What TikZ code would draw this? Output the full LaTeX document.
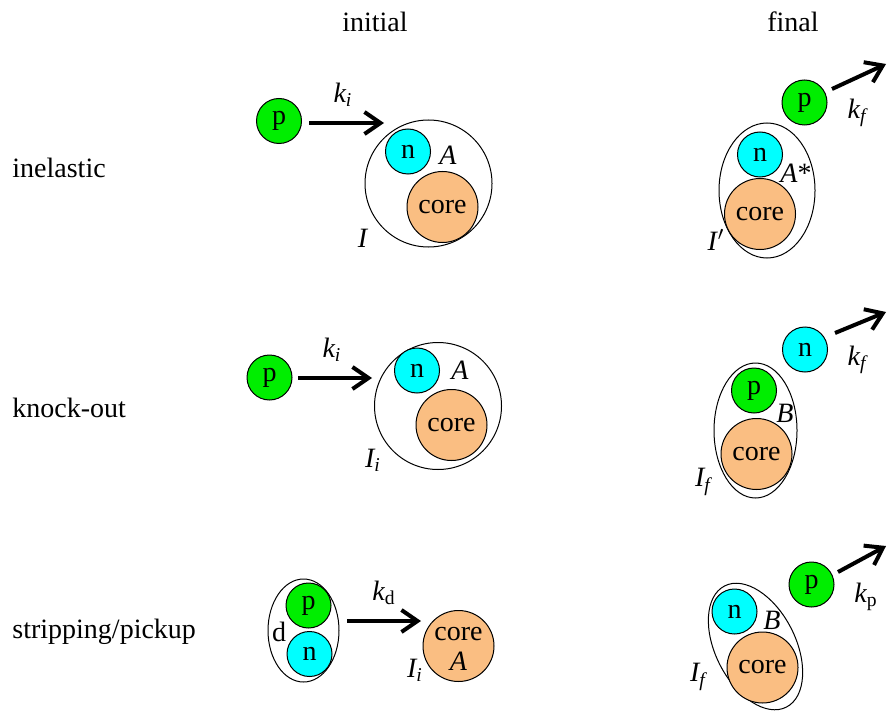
\documentclass[tikz,border=0pt]{standalone}
\usepackage{amsmath}
\usepackage{fontspec}
\setmainfont{Liberation Serif}
\usetikzlibrary{arrows.meta}
\definecolor{pgreen}{RGB}{0,238,0}
\definecolor{ncyan}{RGB}{0,255,255}
\definecolor{corec}{RGB}{250,190,130}
\tikzset{
  ball/.style={circle, draw=black, line width=0.5pt, inner sep=0pt, minimum size=22.5pt},
  proton/.style={ball, fill=pgreen},
  neutron/.style={ball, fill=ncyan},
  corebig/.style={circle, draw=black, line width=0.5pt, inner sep=0pt, minimum size=35.5pt, fill=corec, align=center},
  nucleus/.style={circle, draw=black, line width=0.5pt, inner sep=0pt, minimum size=63.5pt},
  shell/.style={draw=black, line width=0.5pt},
  mom/.style={line width=2pt, -{Straight Barb[length=8pt,width=11pt,line width=2pt]}},
  lbl/.style={inner sep=0pt},
  rowlbl/.style={inner sep=0pt, anchor=west},
}
\newcommand{\kk}[1]{$\textit{k}_{#1}$}
\begin{document}
\begin{tikzpicture}[x=0.5pt,y=-0.5pt,font=\fontsize{14}{16}\selectfont]
\useasboundingbox (0,0) rectangle (887,711);
% headings
\node[lbl] (hi) at (375,22) {initial};
\node[lbl] (hf) at (793,22) {final};
\node[rowlbl] (r1) at (12,168) {inelastic};
\node[rowlbl] (r2) at (12,408) {knock-out};
\node[rowlbl] (r3) at (12,632) {stripping/pickup};

% ---------- row 1 initial
\node[nucleus] (I1) at (428.5,183.5) {};
\node[neutron] (n1) at (408,151.5) {n};
\node[corebig] (c1) at (442.5,207) {core};
\node[proton] (p1) at (279,121) {p};
\coordinate (a1s) at (309,123);
\coordinate (a1e) at (384,123);
\draw[mom] (a1s) -- (a1e);
\node[lbl] (k1) at (343,95) {\kk{\textit{i}}};
\node[lbl] (A1) at (448,155) {\textit{A}};
\node[lbl] (L1) at (363,238) {\textit{I}};

% ---------- row 1 final
\coordinate (e1) at (767,190.5);
\draw[shell] (e1) ellipse [x radius=48, y radius=67.5];
\node[neutron] (n1f) at (760,154.5) {n};
\node[corebig] (c1f) at (760,214) {core};
\node[proton] (p1f) at (804.5,102.5) {p};
\coordinate (b1s) at (832,89);
\coordinate (b1e) at (886,64);
\draw[mom] (b1s) -- (b1e);
\node[lbl] (k1f) at (857,113) {\kk{\textit{f}}};
\node[lbl] (A1f) at (796,173) {\textit{A}*};
\node[lbl] (L1f) at (716,240) {\textit{I}$'$};

% ---------- row 2 initial
\node[nucleus] (I2) at (438,406) {};
\node[neutron] (n2) at (417,370.5) {n};
\node[corebig] (c2) at (451.5,425) {core};
\node[proton] (p2) at (269.5,377.5) {p};
\coordinate (a2s) at (298,378);
\coordinate (a2e) at (372,378);
\draw[mom] (a2s) -- (a2e);
\node[lbl] (k2) at (332,350) {\kk{\textit{i}}};
\node[lbl] (A2) at (460,370) {\textit{A}};
\node[lbl] (L2) at (373,460) {$\textit{I}_{\textit{i}}$};

% ---------- row 2 final
\coordinate (e2) at (755.5,430.5);
\draw[shell] (e2) ellipse [x radius=41.5, y radius=67.5];
\node[proton] (p2f) at (754,390.5) {p};
\node[corebig] (c2f) at (756.5,454) {core};
\node[neutron] (n2f) at (805,349.5) {n};
\coordinate (b2s) at (835,333);
\coordinate (b2e) at (886,312);
\draw[mom] (b2s) -- (b2e);
\node[lbl] (k2f) at (857,360) {\kk{\textit{f}}};
\node[lbl] (B2f) at (785,413) {\textit{B}};
\node[lbl] (L2f) at (703,482) {$\textit{I}_{\textit{f}}$};

% ---------- row 3 initial
\coordinate (e3) at (303.5,630.5);
\draw[shell] (e3) ellipse [x radius=35.5, y radius=51.5];
\node[proton] (p3) at (308.5,605.5) {p};
\node[neutron] (n3) at (309.5,654) {n};
\node[lbl] (d3) at (279,632) {d};
\coordinate (a3s) at (347,621);
\coordinate (a3e) at (421,621);
\draw[mom] (a3s) -- (a3e);
\node[lbl] (k3) at (384,593) {$\textit{k}_{\text{d}}$};
\node[corebig] (c3) at (458.5,646) {};
\node[lbl] (c3t) at (458.5,634) {core};
\node[lbl] (A3) at (458.5,661) {\textit{A}};
\node[lbl] (L3) at (415,670) {$\textit{I}_{\textit{i}}$};

% ---------- row 3 final
\coordinate (e3f) at (755.5,646.5);
\draw[shell, rotate around={27:(e3f)}] (e3f) ellipse [x radius=40, y radius=68];
\node[neutron] (n3f) at (734.5,611.5) {n};
\node[corebig] (c3f) at (762.5,667.5) {core};
\node[proton] (p3f) at (811.5,584.5) {p};
\coordinate (b3s) at (838,572);
\coordinate (b3e) at (886,546);
\draw[mom] (b3s) -- (b3e);
\node[lbl] (k3f) at (866,597) {$\textit{k}_{\text{p}}$};
\node[lbl] (B3f) at (772,620) {\textit{B}};
\node[lbl] (L3f) at (698,677) {$\textit{I}_{\textit{f}}$};
\end{tikzpicture}
\end{document}
